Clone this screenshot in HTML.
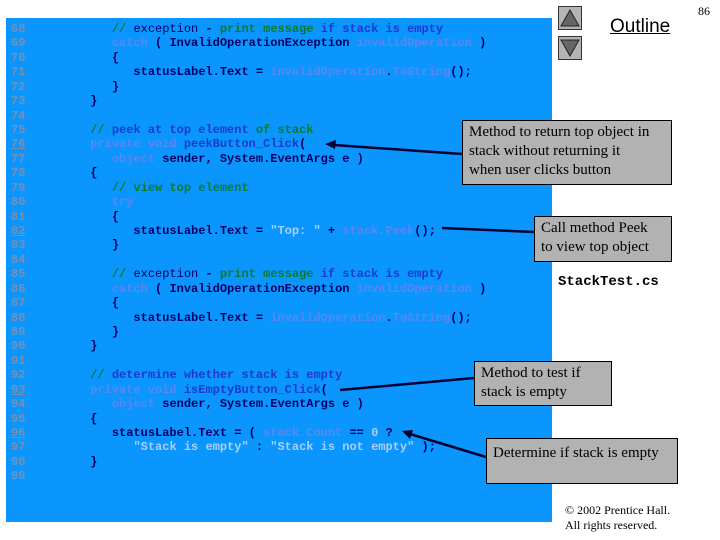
<!DOCTYPE html>
<html><head><meta charset="utf-8"><style>
body{margin:0;width:720px;height:540px;background:#fff;position:relative;overflow:hidden;font-family:"Liberation Serif",serif}
#panel{position:absolute;left:6px;top:18px;width:546px;height:504px;background:#0a96fc}
pre{position:absolute;left:11px;margin:0;font:12px/14px "Liberation Mono",monospace;white-space:pre;color:#000066;font-weight:bold}
.n{color:#7a8fb0;font-weight:bold}
.k{color:#5c86f2;font-weight:bold}
.c{color:#1a3ad0;font-weight:bold}
.g{color:#0a7a2a;font-weight:bold}
.s{color:#a8d0ff;font-weight:bold}
.u{text-decoration:underline}
.box{position:absolute;background:#b2b2b2;border:1px solid #000;font-size:15px;line-height:19px;padding:2px 6px;box-sizing:border-box;color:#000;white-space:nowrap}
.btn{position:absolute;left:558px;width:24px;height:24px;background:#b4b4b4;border:1px solid #333;box-sizing:border-box}
</style></head><body>
<div id="panel"></div>
<pre style="top:22px"><span class="n">68</span>            <span class="g">//</span> <span style="font-weight:normal">exception</span> - <span class="g">print message</span> <span class="c">if stack is empty</span></pre>
<pre style="top:36.4px"><span class="n">69</span>            <span class="k">catch</span> ( InvalidOperationException <span class="k">invalidOperation</span> )</pre>
<pre style="top:50.8px"><span class="n">70</span>            {</pre>
<pre style="top:65.3px"><span class="n">71</span>               statusLabel.Text = <span class="k">invalidOperation</span>.<span class="k">ToString</span>();</pre>
<pre style="top:79.7px"><span class="n">72</span>            }</pre>
<pre style="top:94.1px"><span class="n">73</span>         }</pre>
<pre style="top:108.5px"><span class="n">74</span></pre>
<pre style="top:123px"><span class="n">75</span>         <span class="g">//</span> <span class="c">peek at top element</span> <span class="g">of stack</span></pre>
<pre style="top:137.4px"><span class="n u">76</span>         <span class="k">private void</span> <span class="c">peekButton_Click</span>(</pre>
<pre style="top:151.8px"><span class="n">77</span>            <span class="k">object</span> sender, System.EventArgs e )</pre>
<pre style="top:166.2px"><span class="n">78</span>         {</pre>
<pre style="top:180.7px"><span class="n">79</span>            <span class="g">//</span> <span class="g">view top element</span></pre>
<pre style="top:195.1px"><span class="n">80</span>            <span class="k">try</span></pre>
<pre style="top:209.5px"><span class="n">81</span>            {</pre>
<pre style="top:223.9px"><span class="n u">82</span>               statusLabel.Text = <span class="s">"Top: "</span> + <span class="k">stack.Peek</span>();</pre>
<pre style="top:238.4px"><span class="n">83</span>            }</pre>
<pre style="top:252.8px"><span class="n">84</span></pre>
<pre style="top:267.2px"><span class="n">85</span>            <span class="g">//</span> <span style="font-weight:normal">exception</span> - <span class="g">print message</span> <span class="c">if stack is empty</span></pre>
<pre style="top:281.6px"><span class="n">86</span>            <span class="k">catch</span> ( InvalidOperationException <span class="k">invalidOperation</span> )</pre>
<pre style="top:296.1px"><span class="n">87</span>            {</pre>
<pre style="top:310.5px"><span class="n">88</span>               statusLabel.Text = <span class="k">invalidOperation</span>.<span class="k">ToString</span>();</pre>
<pre style="top:324.9px"><span class="n">89</span>            }</pre>
<pre style="top:339.3px"><span class="n">90</span>         }</pre>
<pre style="top:353.8px"><span class="n">91</span></pre>
<pre style="top:368.2px"><span class="n">92</span>         <span class="g">//</span> <span class="c">determine whether stack is empty</span></pre>
<pre style="top:382.6px"><span class="n u">93</span>         <span class="k">private void</span> <span class="c">isEmptyButton_Click</span>(</pre>
<pre style="top:397px"><span class="n">94</span>            <span class="k">object</span> sender, System.EventArgs e )</pre>
<pre style="top:411.5px"><span class="n">95</span>         {</pre>
<pre style="top:425.9px"><span class="n u">96</span>            statusLabel.Text = ( <span class="k">stack.Count</span> == <span class="s">0</span> ?</pre>
<pre style="top:440.3px"><span class="n">97</span>               <span class="s">"Stack is empty"</span> : <span class="s">"Stack is not empty"</span> );</pre>
<pre style="top:454.7px"><span class="n">98</span>         }</pre>
<pre style="top:469.2px"><span class="n">99</span></pre>

<div class="btn" style="top:6px"><svg width="22" height="22"><polygon points="11,3 20,19 2,19" fill="#666" stroke="#222"/></svg></div>
<div class="btn" style="top:36px"><svg width="22" height="22"><polygon points="2,3 20,3 11,19" fill="#666" stroke="#222"/></svg></div>
<div style="position:absolute;left:610px;top:16px;font:19px 'Liberation Sans',sans-serif;text-decoration:underline">Outline</div>
<div style="position:absolute;left:698px;top:4px;font:12px 'Liberation Serif',serif">86</div>

<svg style="position:absolute;left:0;top:0" width="720" height="540">
<g stroke="#000033" stroke-width="2.5" fill="none">
<line x1="462" y1="154" x2="334" y2="145"/>
<line x1="534" y1="232" x2="442" y2="228"/>
<line x1="474" y1="378" x2="340" y2="390"/>
<line x1="486" y1="457" x2="410" y2="434"/>
</g>
<polygon points="325,144 336,140 335,149" fill="#000033"/>
<polygon points="402,431 413,430 410,439" fill="#000033"/>
</svg>

<div class="box" style="left:462px;top:120px;width:210px;height:65px">Method to return top object in<br>stack without returning it<br>when user clicks button</div>
<div class="box" style="left:534px;top:216px;width:138px;height:46px">Call method Peek<br>to view top object</div>
<div class="box" style="left:474px;top:361px;width:138px;height:45px">Method to test if<br>stack is empty</div>
<div class="box" style="left:486px;top:438px;width:192px;height:46px;padding-top:5px">Determine if stack is empty</div>
<div style="position:absolute;left:558px;top:274px;font:bold 14px 'Liberation Mono',monospace">StackTest.cs</div>
<div style="position:absolute;left:565px;top:503px;font-size:12px;line-height:15px">© 2002 Prentice Hall.<br>All rights reserved.</div>
</body></html>
